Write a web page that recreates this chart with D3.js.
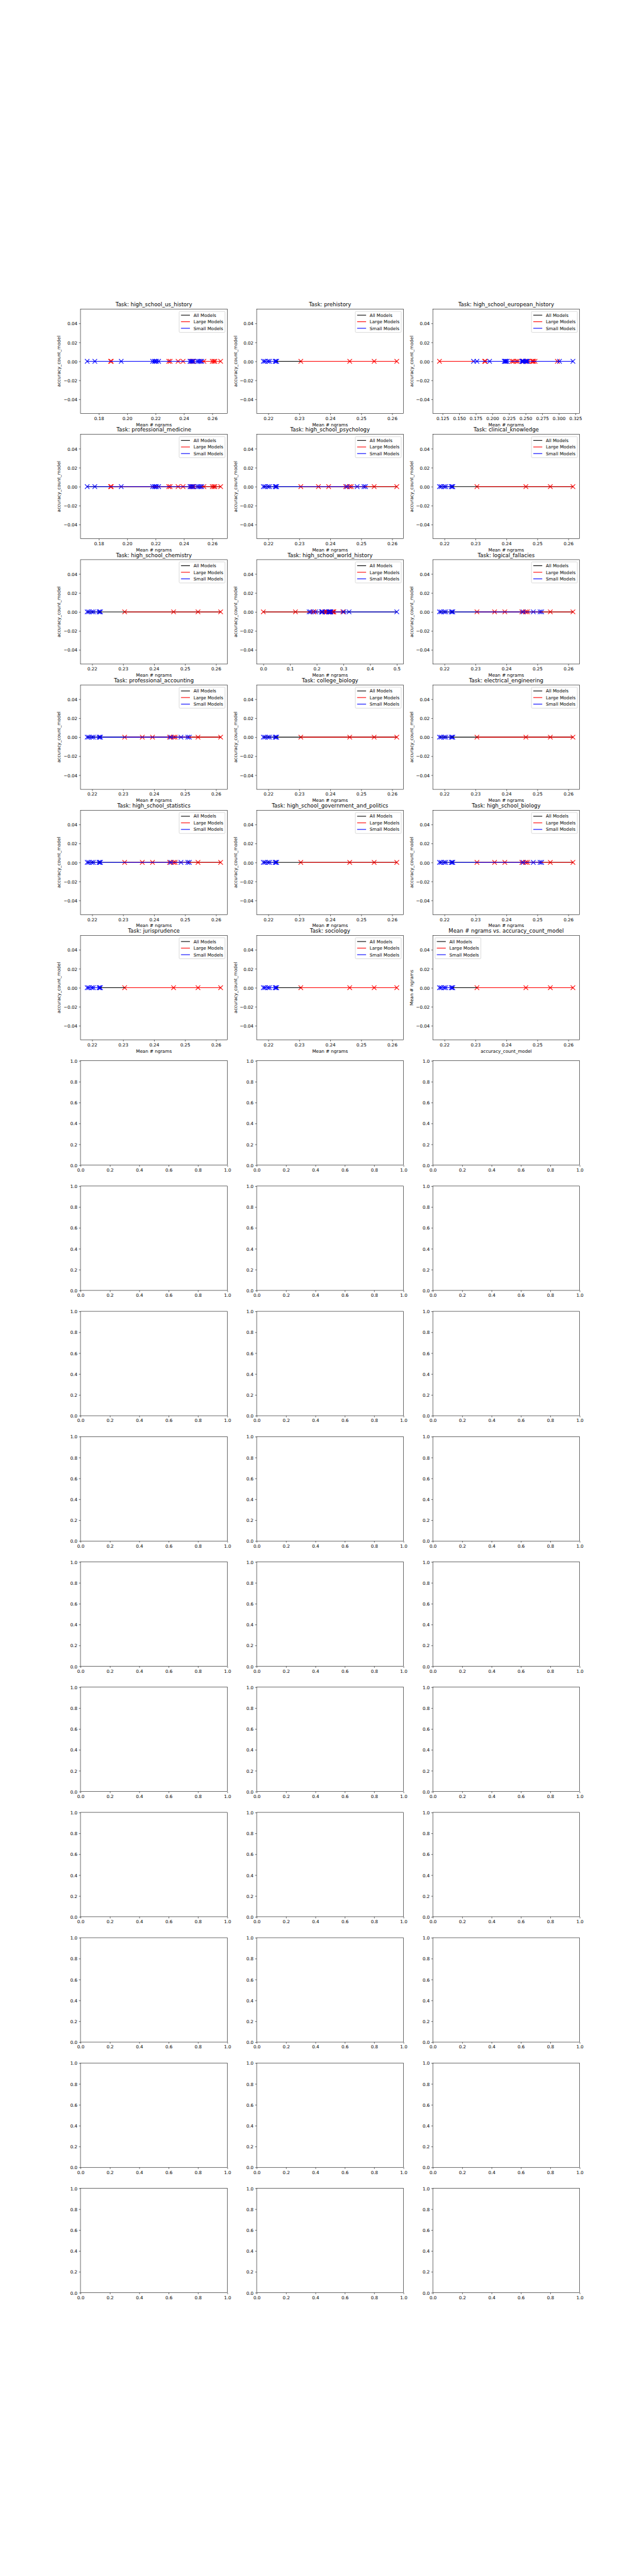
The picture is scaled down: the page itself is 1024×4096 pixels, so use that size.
<!DOCTYPE html>
<html>
<head>
<meta charset="utf-8">
<script src="https://cdn.jsdelivr.net/npm/d3@7"></script>
<style>
  html, body { margin: 0; padding: 0; background: #ffffff; }
  svg { display: block; }
</style>
</head>
<body>
<svg id="chart"></svg>
<script>
// ---------------- DATA ----------------
// Task titles (first 18 panels carry data, the remaining 30 are empty axes)
const taskTitles = [
  "Task: high_school_us_history", "Task: prehistory", "Task: high_school_european_history",
  "Task: professional_medicine", "Task: high_school_psychology", "Task: clinical_knowledge",
  "Task: high_school_chemistry", "Task: high_school_world_history", "Task: logical_fallacies",
  "Task: professional_accounting", "Task: college_biology", "Task: electrical_engineering",
  "Task: high_school_statistics", "Task: high_school_government_and_politics", "Task: high_school_biology",
  "Task: jurisprudence", "Task: sociology", "Mean # ngrams vs. accuracy_count_model"
];
// which model set each panel uses
const taskModelSet = ["C","A","D","C","B","A","A","E","B","B","A","A","B","A","B","A","A","A"];

// Mean # ngrams of small / large models (accuracy_count_model is 0 for all)
const smallA = [0.2184, 0.2189, 0.2199, 0.2204, 0.2222, 0.2225, 0.2227];
const largeA = [0.2305, 0.2463, 0.2542, 0.2615];

const smallB = [0.2184, 0.2189, 0.2199, 0.2204, 0.2222, 0.2225, 0.2227, 0.2454, 0.2487, 0.2509, 0.2514];
const largeB = [0.2305, 0.2362, 0.2395, 0.2450, 0.2463, 0.2468, 0.2542, 0.2615];

const smallC = [0.1718, 0.1772, 0.1958, 0.2179, 0.2191, 0.2199, 0.2207, 0.2222,
                0.2443, 0.2451, 0.2458, 0.2465, 0.2496, 0.2506, 0.2517, 0.2526];
const largeC = [0.1883, 0.1888, 0.2293, 0.2303, 0.2359, 0.2394, 0.2450, 0.2463, 0.2468,
                0.2541, 0.2600, 0.2611, 0.2619, 0.2659];

const smallD = [0.1716, 0.1768, 0.1959, 0.2179, 0.2191, 0.2199, 0.2207, 0.2222,
                0.2443, 0.2451, 0.2458, 0.2465, 0.2496, 0.2506, 0.2517, 0.2526, 0.3011, 0.3213];
const largeD = [0.1204, 0.1883, 0.1894, 0.2296, 0.2317, 0.2359, 0.2382, 0.2450, 0.2468,
                0.2541, 0.2600, 0.2611, 0.2619, 0.2643, 0.2979];

const smallE = [0.1716, 0.1768, 0.1959, 0.2179, 0.2191, 0.2199, 0.2207, 0.2222,
                0.2443, 0.2451, 0.2458, 0.2465, 0.2496, 0.2506, 0.2517, 0.2526, 0.3011, 0.3213, 0.5000];
const largeE = [0.0000, 0.1204, 0.1883, 0.1894, 0.2296, 0.2317, 0.2359, 0.2382, 0.2450, 0.2468,
                0.2541, 0.2600, 0.2611, 0.2619, 0.2643, 0.2979];

// tick labels
const xTicksAB = ["0.22", "0.23", "0.24", "0.25", "0.26"];
const xTicksC = ["0.18", "0.20", "0.22", "0.24", "0.26"];
const xTicksD = ["0.125", "0.150", "0.175", "0.200", "0.225", "0.250", "0.275", "0.300", "0.325"];
const xTicksE = ["0.0", "0.1", "0.2", "0.3", "0.4", "0.5"];
const yTicksData = ["\u22120.04", "\u22120.02", "0.00", "0.02", "0.04"];
const emptyTicks = ["0.0", "0.2", "0.4", "0.6", "0.8", "1.0"];

const legendLabels = ["All Models", "Large Models", "Small Models"];
const seriesColors = ["#000000", "#ff0000", "#0000ff"];

// ---------------- LAYOUT ----------------
const S = 0.512;
const FIG_W = 2000, FIG_H = 8000;
const NR = 16, NC = 3;
const figL = 0.125 * FIG_W, figR = 0.9 * FIG_W, figT = 0.12 * FIG_H, figB = 0.89 * FIG_H;
const AW = (figR - figL) / (NC + (NC - 1) * 0.2);
const AH = (figB - figT) / (NR + (NR - 1) * 0.2);
const FS = 13.889 * S, TFS = 16.667 * S;
const FONT = "'DejaVu Sans', 'Liberation Sans', sans-serif";

const sets = {
  A: {small: smallA, large: largeA, ticks: xTicksAB},
  B: {small: smallB, large: largeB, ticks: xTicksAB},
  C: {small: smallC, large: largeC, ticks: xTicksC},
  D: {small: smallD, large: largeD, ticks: xTicksD},
  E: {small: smallE, large: largeE, ticks: xTicksE}
};

const svg = d3.select("#chart").attr("width", FIG_W * S).attr("height", FIG_H * S);
svg.append("rect").attr("width", FIG_W * S).attr("height", FIG_H * S).attr("fill", "#ffffff");

function num(s) { return +String(s).replace("\u2212", "-"); }

function styleAxis(gAxis, isX) {
  gAxis.attr("font-size", FS).attr("font-family", FONT);
  gAxis.select(".domain").remove();
  gAxis.selectAll(".tick line").attr("stroke", "#000").attr("stroke-width", 1.11 * S);
  gAxis.selectAll(".tick text").attr("fill", "#000").attr("dy", isX ? "0.76em" : "0.38em");
}

for (let i = 0; i < NR * NC; i++) {
  const r = Math.floor(i / NC), c = i % NC;
  const x0 = (figL + c * AW * 1.2) * S, y0 = (figT + r * AH * 1.2) * S;
  const w = AW * S, h = AH * S;
  const g = svg.append("g");

  if (i < taskTitles.length) {
    const set = sets[taskModelSet[i]];
    const all = set.small.concat(set.large);
    const mn = d3.min(all), mx = d3.max(all), rg = mx - mn;
    const x = d3.scaleLinear().domain([mn - 0.05 * rg, mx + 0.05 * rg]).range([x0, x0 + w]);
    const y = d3.scaleLinear().domain([-0.055, 0.055]).range([y0 + h, y0]);

    // scatter markers (x)
    const ms = 13.9 * S / 2;
    const markers = [{vals: set.large, color: seriesColors[1]}, {vals: set.small, color: seriesColors[2]}];
    markers.forEach(m => {
      g.append("g").selectAll("path").data(m.vals).join("path")
        .attr("d", d => {
          const px = x(d), py = y(0);
          return `M${px - ms},${py - ms}L${px + ms},${py + ms}M${px - ms},${py + ms}L${px + ms},${py - ms}`;
        })
        .attr("stroke", m.color).attr("stroke-width", 2.08 * S).attr("fill", "none");
    });
    // fit lines
    const lineSets = [all, set.large, set.small];
    const line = d3.line().x(d => x(d[0])).y(d => y(d[1]));
    lineSets.forEach((vals, k) => {
      g.append("path")
        .datum([[d3.min(vals), 0], [d3.max(vals), 0]])
        .attr("d", line)
        .attr("stroke", seriesColors[k]).attr("stroke-width", 2.08 * S).attr("fill", "none");
    });

    // axes
    const gx = g.append("g").attr("transform", `translate(0,${y0 + h})`)
      .call(d3.axisBottom(x).tickValues(set.ticks.map(num)).tickFormat((d, k) => set.ticks[k])
        .tickSizeInner(4.86 * S).tickSizeOuter(0).tickPadding(4.86 * S));
    styleAxis(gx, true);
    const gy = g.append("g").attr("transform", `translate(${x0},0)`)
      .call(d3.axisLeft(y).tickValues(yTicksData.map(num)).tickFormat((d, k) => yTicksData[k])
        .tickSizeInner(4.86 * S).tickSizeOuter(0).tickPadding(4.86 * S));
    styleAxis(gy, false);

    // spines
    g.append("rect").attr("x", x0).attr("y", y0).attr("width", w).attr("height", h)
      .attr("fill", "none").attr("stroke", "#000").attr("stroke-width", 1.11 * S);

    // title
    g.append("text").attr("x", x0 + w / 2).attr("y", y0 - 8.33 * S)
      .attr("text-anchor", "middle").attr("font-family", FONT).attr("font-size", TFS)
      .attr("fill", "#000").text(taskTitles[i]);

    const isLast = i === taskTitles.length - 1;
    // x label
    g.append("text").attr("x", x0 + w / 2).attr("y", y0 + h + 39.3 * S)
      .attr("text-anchor", "middle").attr("font-family", FONT).attr("font-size", FS)
      .attr("fill", "#000").text(isLast ? "accuracy_count_model" : "Mean # ngrams");
    // y label
    let maxW = 0;
    gy.selectAll(".tick text").each(function () { maxW = Math.max(maxW, this.getBBox().width); });
    const ylx = x0 - 9.72 * S - maxW - 5.56 * S - 2.89 * S;
    g.append("text").attr("transform", `translate(${ylx},${y0 + h / 2}) rotate(-90)`)
      .attr("text-anchor", "middle").attr("font-family", FONT).attr("font-size", FS)
      .attr("fill", "#000").text(isLast ? "Mean # ngrams" : "accuracy_count_model");

    // legend
    const lg = g.append("g");
    const tmp = lg.append("g");
    let tw = 0;
    legendLabels.forEach(t => {
      const tt = tmp.append("text").attr("font-family", FONT).attr("font-size", FS).text(t);
      tw = Math.max(tw, tt.node().getComputedTextLength());
    });
    tmp.remove();
    const bp = 5.56 * S, hl = 27.8 * S, htp = 11.1 * S, rowH = 20.39 * S, pad = 6.94 * S;
    const lw = 2 * bp + hl + htp + tw;
    const lh = 2 * bp + 3 * 13.45 * S + 2 * 6.94 * S;
    const lx = isLast ? x0 + pad : x0 + w - pad - lw;
    const ly = y0 + pad;
    lg.append("rect").attr("x", lx).attr("y", ly).attr("width", lw).attr("height", lh)
      .attr("rx", 2.78 * S).attr("ry", 2.78 * S)
      .attr("fill", "#ffffff").attr("fill-opacity", 0.8)
      .attr("stroke", "#cccccc").attr("stroke-width", 1.39 * S);
    legendLabels.forEach((t, k) => {
      const cy = ly + bp + k * rowH + 6.3 * S;
      lg.append("line").attr("x1", lx + bp).attr("x2", lx + bp + hl).attr("y1", cy).attr("y2", cy)
        .attr("stroke", seriesColors[k]).attr("stroke-width", 2.08 * S);
      lg.append("text").attr("x", lx + bp + hl + htp).attr("y", cy + 5.0 * S)
        .attr("font-family", FONT).attr("font-size", FS).attr("fill", "#000").text(t);
    });
  } else {
    const x = d3.scaleLinear().domain([0, 1]).range([x0, x0 + w]);
    const y = d3.scaleLinear().domain([0, 1]).range([y0 + h, y0]);
    const gx = g.append("g").attr("transform", `translate(0,${y0 + h})`)
      .call(d3.axisBottom(x).tickValues(emptyTicks.map(num)).tickFormat((d, k) => emptyTicks[k])
        .tickSizeInner(4.86 * S).tickSizeOuter(0).tickPadding(4.86 * S));
    styleAxis(gx, true);
    const gy = g.append("g").attr("transform", `translate(${x0},0)`)
      .call(d3.axisLeft(y).tickValues(emptyTicks.map(num)).tickFormat((d, k) => emptyTicks[k])
        .tickSizeInner(4.86 * S).tickSizeOuter(0).tickPadding(4.86 * S));
    styleAxis(gy, false);
    g.append("rect").attr("x", x0).attr("y", y0).attr("width", w).attr("height", h)
      .attr("fill", "none").attr("stroke", "#000").attr("stroke-width", 1.11 * S);
  }
}
</script>
</body>
</html>
